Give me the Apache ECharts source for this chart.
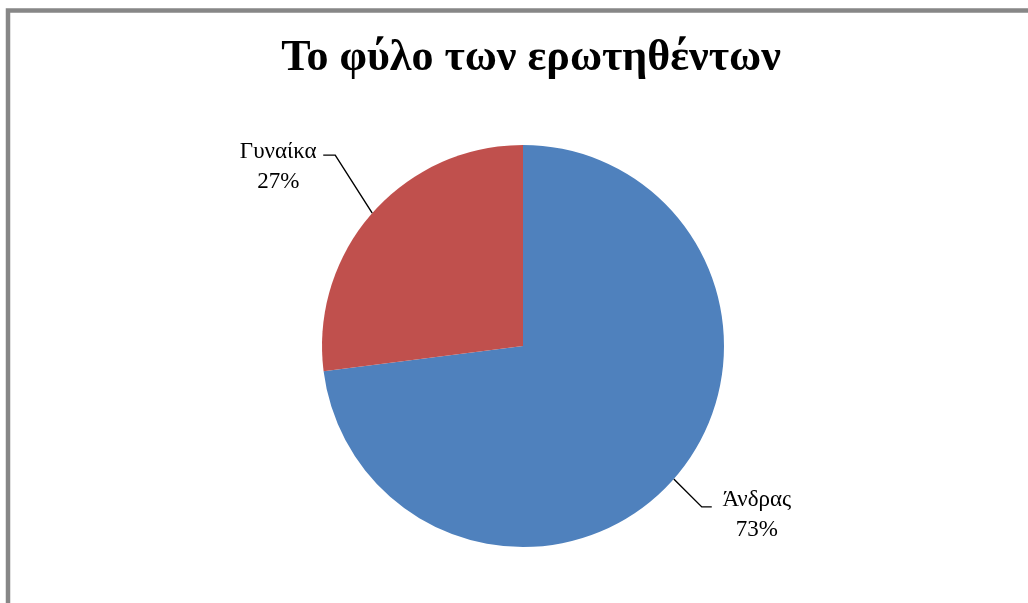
<!DOCTYPE html>
<html>
<head>
<meta charset="utf-8">
<script src="https://cdn.jsdelivr.net/npm/echarts@6/dist/echarts.min.js"></script>
<style>
  html, body { margin: 0; padding: 0; background: #ffffff; }
  #chart { width: 1028px; height: 603px; }
</style>
</head>
<body>
<div id="chart"></div>
<script>
// Survey respondents by gender (share of total, %)
const categories = ['Άνδρας', 'Γυναίκα'];
const shares = [73, 27];
const sliceColors = ['#4F81BD', '#C0504D'];
const chartTitle = 'Το φύλο των ερωτηθέντων';

const serif = '"Liberation Serif", "Times New Roman", serif';

const chart = echarts.init(document.getElementById('chart'), null, { renderer: 'canvas' });

chart.setOption({
  backgroundColor: '#ffffff',
  animation: false,
  title: {
    text: chartTitle,
    left: 526,
    textAlign: 'center',
    top: 32,
    textStyle: {
      fontFamily: serif,
      fontSize: 44,
      fontWeight: 'bold',
      color: '#000000'
    }
  },
  graphic: [{
    type: 'rect',
    shape: { x: 8, y: 10.5, width: 1200, height: 800 },
    style: { fill: 'none', stroke: '#878787', lineWidth: 4.5 },
    silent: true
  }],
  series: [{
    type: 'pie',
    center: [523, 346],
    radius: 201,
    startAngle: 90,
    clockwise: true,
    data: categories.map((name, i) => ({
      name: name,
      value: shares[i],
      itemStyle: { color: sliceColors[i] }
    })),
    itemStyle: { borderWidth: 0 },
    label: {
      show: true,
      position: 'outside',
      formatter: '{b}\n{d}%',
      fontFamily: serif,
      fontSize: 23,
      lineHeight: 30,
      color: '#000000',
      align: 'center'
    },
    labelLine: {
      show: true,
      length: 40,
      length2: 12,
      lineStyle: { color: '#000000', width: 1.4 }
    },
    // Leader lines: an elbow from the slice edge out to a short horizontal tail,
    // with the two-line label centred beside the tail.
    labelLayout: function (params) {
      const pts = params.labelLinePoints;
      if (!pts) return {};
      const p0 = pts[0];
      const left = p0[0] < 523;
      let p1, p2, x, y;
      if (left) {
        p1 = [p0[0] - 37, p0[1] - 58];
        p2 = [p1[0] - 12, p1[1]];
        x = p2[0] - 45;
        y = p2[1] + 12;
      } else {
        p1 = [p0[0] + 28, p0[1] + 28];
        p2 = [p1[0] + 10, p1[1]];
        x = p2[0] + 45;
        y = p2[1] + 8;
      }
      return {
        x: x,
        y: y,
        align: 'center',
        verticalAlign: 'middle',
        labelLinePoints: [p0, p1, p2]
      };
    }
  }]
});
</script>
</body>
</html>
